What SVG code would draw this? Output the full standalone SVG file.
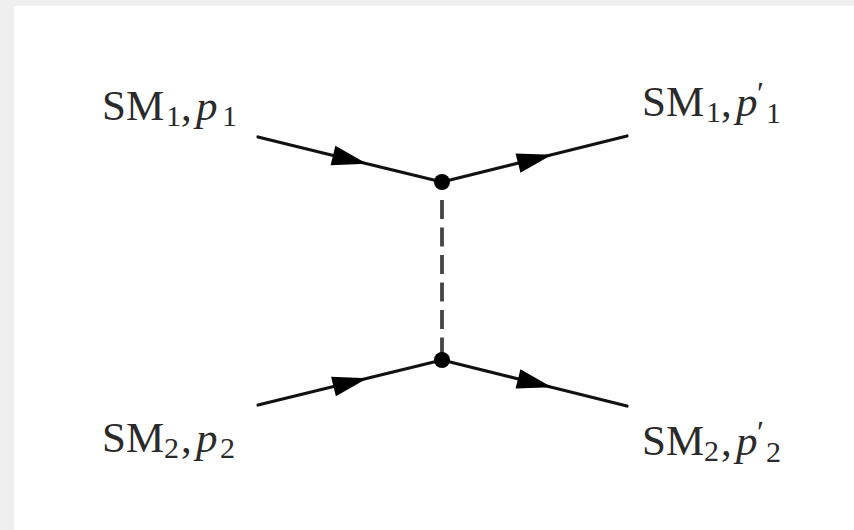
<svg xmlns="http://www.w3.org/2000/svg" width="854" height="530" viewBox="0 0 854 530">
<style>
.lbl{font-family:"Liberation Serif","DejaVu Serif",serif;font-size:43px;fill:#2a2a2a}
.sub{font-size:30px}
.pr{font-size:32px}
.it{font-style:italic}
.prop{fill:none;stroke:#111;stroke-width:3.2;stroke-linecap:round}
.dash{fill:none;stroke:#444;stroke-width:3.8;stroke-dasharray:19 8.5}
</style>
<defs>
<marker id="arr" markerUnits="userSpaceOnUse" viewBox="-19 -11 38 22" markerWidth="38" markerHeight="22" refX="0" refY="0" orient="auto">
<path d="M-17,-10 L18,0 L-17,10 Z" fill="#000"/>
</marker>
</defs>
<rect x="0" y="0" width="854" height="530" fill="#efefef"/>
<rect x="14" y="6" width="840" height="524" fill="#fff"/>
<g id="connectors">
<path class="prop" d="M258,137 L349.5,159.5 L442,182" marker-mid="url(#arr)"/>
<path class="prop" d="M442,182 L534.5,159 L627,136" marker-mid="url(#arr)"/>
<path class="prop" d="M258,405 L350,382.5 L442,360" marker-mid="url(#arr)"/>
<path class="prop" d="M442,360 L534.5,383 L627,406" marker-mid="url(#arr)"/>
<line class="dash" x1="442" y1="200" x2="442" y2="360"/>
</g>
<g id="vertex-top"><circle cx="442" cy="182" r="8" fill="#000"/></g>
<g id="vertex-bottom"><circle cx="442" cy="360" r="8" fill="#000"/></g>
<g id="label-sm1-in">
<text class="lbl" y="120"><tspan x="102">SM</tspan><tspan class="sub" x="166" y="126">1</tspan><tspan x="181" y="120">,</tspan><tspan class="it" x="196">p</tspan><tspan class="sub" x="222" y="126">1</tspan></text>
</g>
<g id="label-sm1-out">
<text class="lbl" y="116"><tspan x="642">SM</tspan><tspan class="sub" x="706" y="122">1</tspan><tspan x="721" y="116">,</tspan><tspan class="it" x="736">p</tspan><tspan class="pr" x="757" y="104">′</tspan><tspan class="sub" x="766" y="123">1</tspan></text>
</g>
<g id="label-sm2-in">
<text class="lbl" y="452"><tspan x="102">SM</tspan><tspan class="sub" x="164" y="458">2</tspan><tspan x="181" y="452">,</tspan><tspan class="it" x="196">p</tspan><tspan class="sub" x="220" y="458">2</tspan></text>
</g>
<g id="label-sm2-out">
<text class="lbl" y="455"><tspan x="642">SM</tspan><tspan class="sub" x="704" y="461">2</tspan><tspan x="721" y="455">,</tspan><tspan class="it" x="736">p</tspan><tspan class="pr" x="757" y="443">′</tspan><tspan class="sub" x="766" y="462">2</tspan></text>
</g>
</svg>
